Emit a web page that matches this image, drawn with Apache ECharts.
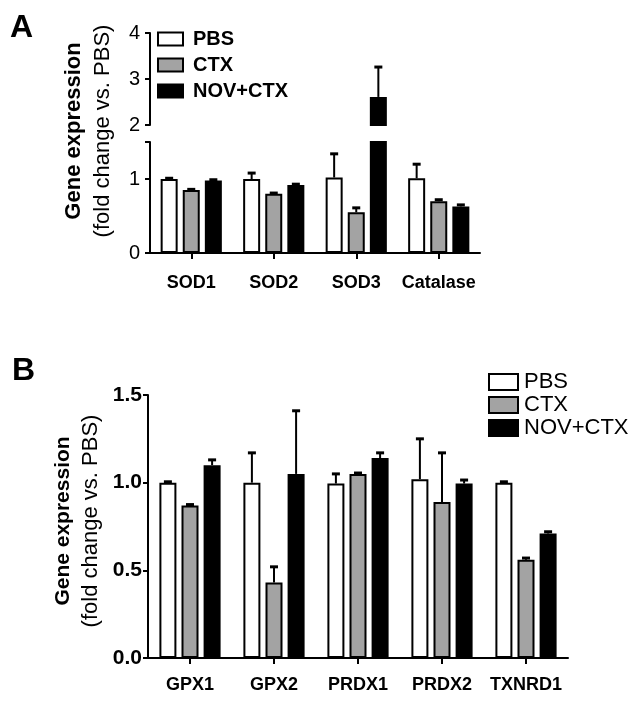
<!DOCTYPE html>
<html>
<head>
<meta charset="utf-8">
<script src="https://cdn.jsdelivr.net/npm/echarts@6/dist/echarts.min.js"></script>
<style>
html,body{margin:0;padding:0;background:#fff;}
#chart{width:643px;height:701px;}
</style>
</head>
<body>
<div id="chart"></div>
<script>
// ---------- data ----------
var seriesNames = ['PBS', 'CTX', 'NOV+CTX'];

var catsA = ['SOD1', 'SOD2', 'SOD3', 'Catalase'];
var pbsA  = [1.00, 1.00, 1.02, 1.01];
var ctxA  = [0.85, 0.80, 0.55, 0.70];
var novA  = [0.98, 0.92, 2.61, 0.63];
var pbsAErr = [0.01, 0.08, 0.32, 0.19];
var ctxAErr = [0.01, 0.01, 0.06, 0.02];
var novAErr = [0.01, 0.01, 0.65, 0.02];
var ticksALow = [0, 1];
var ticksAHigh = [2, 3, 4];

var catsB = ['GPX1', 'GPX2', 'PRDX1', 'PRDX2', 'TXNRD1'];
var pbsB  = [1.00, 1.00, 0.995, 1.02, 1.00];
var ctxB  = [0.87, 0.43, 1.05, 0.89, 0.56];
var novB  = [1.10, 1.05, 1.14, 0.995, 0.71];
var pbsBErr = [0.005, 0.17, 0.055, 0.23, 0.005];
var ctxBErr = [0.005, 0.09, 0.005, 0.28, 0.01];
var novBErr = [0.03, 0.36, 0.03, 0.02, 0.01];
var ticksB = [0, 0.5, 1.0, 1.5];

// ---------- style ----------
var FONT = "'Liberation Sans', Arial, sans-serif";
var COLORS = ['#ffffff', '#a3a3a3', '#000000'];
var BAR_W = 17;
var GAP = 0.3;
var LOW_MAX = 1.5, HIGH_MIN = 2, HIGH_MAX = 4;

var chart = echarts.init(document.getElementById('chart'));

function errRenderer(idx, lo, hi) {
  return function (params, api) {
    var ci = api.value(0), v = api.value(1), e = api.value(2);
    if (v < lo || v > hi) return null;
    var p0 = api.coord([ci, v]);
    var p1 = api.coord([ci, v + e]);
    var x = p0[0] + (idx - 1) * BAR_W * (1 + GAP);
    return {
      type: 'group',
      children: [
        {type: 'line', shape: {x1: x, y1: p0[1], x2: x, y2: p1[1]}, style: {stroke: '#000', lineWidth: 2}},
        {type: 'line', shape: {x1: x - 4, y1: p1[1], x2: x + 4, y2: p1[1]}, style: {stroke: '#000', lineWidth: 3}}
      ]
    };
  };
}

function barSeries(name, idx, data, xi, yi) {
  return {
    name: name, type: 'bar', xAxisIndex: xi, yAxisIndex: yi,
    data: data, barWidth: BAR_W, barGap: (GAP * 100) + '%', clip: true,
    itemStyle: {color: COLORS[idx], borderColor: '#000', borderWidth: 2},
    emphasis: {disabled: true}, animation: false
  };
}

function errSeries(idx, vals, errs, xi, yi, lo, hi) {
  return {
    type: 'custom', xAxisIndex: xi, yAxisIndex: yi, z: 5,
    renderItem: errRenderer(idx, lo, hi),
    data: vals.map(function (v, i) { return [i, v, errs[i]]; }),
    encode: {x: 0, y: 1}, animation: false, silent: true
  };
}

var valsA = [pbsA, ctxA, novA], errsA = [pbsAErr, ctxAErr, novAErr];
var valsB = [pbsB, ctxB, novB], errsB = [pbsBErr, ctxBErr, novBErr];

var series = [];
// panel A lower (grid 0)
seriesNames.forEach(function (n, i) { series.push(barSeries(n, i, valsA[i], 0, 0)); });
// panel A upper (grid 1)
seriesNames.forEach(function (n, i) {
  series.push(barSeries(n, i, valsA[i].map(function (v) { return v > HIGH_MIN ? v : null; }), 1, 1));
});
// panel B (grid 2)
seriesNames.forEach(function (n, i) { series.push(barSeries(n, i, valsB[i], 2, 2)); });
// error bars
seriesNames.forEach(function (n, i) {
  series.push(errSeries(i, valsA[i], errsA[i], 0, 0, 0, LOW_MAX));
  series.push(errSeries(i, valsA[i], errsA[i], 1, 1, HIGH_MIN, HIGH_MAX));
  series.push(errSeries(i, valsB[i], errsB[i], 2, 2, 0, 1.5));
});

var axisLine = {show: true, lineStyle: {color: '#000', width: 2}};
var tickStyle = {color: '#000', width: 2};

var option = {
  animation: false,
  textStyle: {fontFamily: FONT},
  grid: [
    {left: 150, top: 142, width: 330, height: 111},
    {left: 150, top: 33, width: 330, height: 92},
    {left: 148, top: 395, width: 420, height: 263}
  ],
  xAxis: [
    {gridIndex: 0, type: 'category', data: catsA, axisLine: axisLine,
     axisTick: {show: true, alignWithLabel: true, length: 6, lineStyle: tickStyle},
     axisLabel: {interval: 0, color: '#000', fontWeight: 'bold', fontSize: 18, margin: 21, fontFamily: FONT}},
    {gridIndex: 1, type: 'category', data: catsA, show: false},
    {gridIndex: 2, type: 'category', data: catsB, axisLine: axisLine,
     axisTick: {show: true, alignWithLabel: true, length: 6, lineStyle: tickStyle},
     axisLabel: {interval: 0, color: '#000', fontWeight: 'bold', fontSize: 18, margin: 18, fontFamily: FONT}}
  ],
  yAxis: [
    {gridIndex: 0, type: 'value', min: 0, max: LOW_MAX, interval: 0.5,
     axisLine: axisLine, splitLine: {show: false},
     axisTick: {show: true, length: 5, lineStyle: tickStyle, customValues: [0, 1, LOW_MAX]},
     axisLabel: {color: '#000', fontSize: 20, margin: 10, customValues: ticksALow, fontFamily: FONT}},
    {gridIndex: 1, type: 'value', min: HIGH_MIN, max: HIGH_MAX, interval: 1,
     axisLine: axisLine, splitLine: {show: false},
     axisTick: {show: true, length: 5, lineStyle: tickStyle, customValues: ticksAHigh},
     axisLabel: {color: '#000', fontSize: 20, margin: 10, customValues: ticksAHigh, fontFamily: FONT}},
    {gridIndex: 2, type: 'value', min: 0, max: 1.5, interval: 0.5,
     axisLine: axisLine, splitLine: {show: false},
     axisTick: {show: true, length: 5, lineStyle: tickStyle},
     axisLabel: {color: '#000', fontSize: 21, fontWeight: 'bold', margin: 6, fontFamily: FONT,
       formatter: function (v) { return v.toFixed(1); }}}
  ],
  legend: [
    {orient: 'vertical', left: 157, top: 29, padding: 0, data: seriesNames,
     itemWidth: 25, itemHeight: 13, itemGap: 6, selectedMode: false,
     icon: 'rect',
     itemStyle: {borderColor: '#000', borderWidth: 2},
     textStyle: {color: '#000', fontWeight: 'bold', fontSize: 20, fontFamily: FONT, padding: [0, 0, 0, 5]}},
    {orient: 'vertical', left: 488, top: 371, padding: 0, data: seriesNames,
     itemWidth: 29, itemHeight: 16, itemGap: 1, selectedMode: false,
     icon: 'rect',
     itemStyle: {borderColor: '#000', borderWidth: 2},
     textStyle: {color: '#000', fontSize: 22, fontFamily: FONT, padding: [0, 0, 0, 1]}}
  ],
  graphic: [
    {type: 'text', x: 10, y: 12, style: {text: 'A', font: 'bold 32px ' + FONT, fill: '#000'}},
    {type: 'text', x: 12, y: 355, style: {text: 'B', font: 'bold 32px ' + FONT, fill: '#000'}},
    {type: 'text', x: 74, y: 131, rotation: Math.PI / 2,
     style: {text: 'Gene expression', font: 'bold 22px ' + FONT, fill: '#000', align: 'center', verticalAlign: 'middle'}},
    {type: 'text', x: 103, y: 131, rotation: Math.PI / 2,
     style: {text: '(fold change vs. PBS)', font: '22px ' + FONT, fill: '#000', align: 'center', verticalAlign: 'middle'}},
    {type: 'text', x: 63, y: 521, rotation: Math.PI / 2,
     style: {text: 'Gene expression', font: 'bold 21px ' + FONT, fill: '#000', align: 'center', verticalAlign: 'middle'}},
    {type: 'text', x: 91, y: 521, rotation: Math.PI / 2,
     style: {text: '(fold change vs. PBS)', font: '22px ' + FONT, fill: '#000', align: 'center', verticalAlign: 'middle'}}
  ],
  series: series
};
chart.setOption(option);
</script>
</body>
</html>
